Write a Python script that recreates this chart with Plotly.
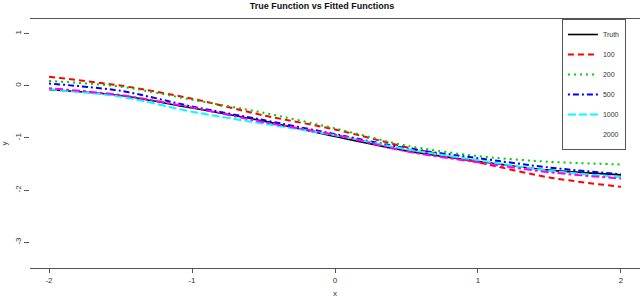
import plotly.graph_objects as go

x_vals = [-2, -1.5, -1, -0.5, 0, 0.5, 1, 1.5, 2]
truth = [-0.08, -0.19, -0.43, -0.68, -0.975, -1.25, -1.45, -1.62, -1.71]
fit_100 = [0.17, 0.00, -0.25, -0.57, -0.84, -1.18, -1.47, -1.76, -1.94]
fit_200 = [0.09, -0.02, -0.27, -0.52, -0.82, -1.15, -1.35, -1.46, -1.51]
fit_500 = [0.04, -0.10, -0.40, -0.66, -0.93, -1.20, -1.39, -1.57, -1.70]
fit_1000 = [-0.07, -0.21, -0.50, -0.73, -0.95, -1.22, -1.43, -1.63, -1.75]
fit_2000 = [-0.05, -0.18, -0.42, -0.70, -0.94, -1.26, -1.47, -1.66, -1.78]

x_ticks = [-2, -1, 0, 1, 2]
y_ticks = [1, 0, -1, -2, -3]

series = [
    ("Truth", truth, "#000000", "solid", 1.6),
    ("100", fit_100, "#FF0000", "6px,4px", 2),
    ("200", fit_200, "#00CD00", "2px,4px", 2),
    ("500", fit_500, "#0000FF", "2px,3px,6px,3px", 2),
    ("1000", fit_1000, "#00FFFF", "8px,3px", 2),
]

fig = go.Figure()
for name, ys, color, dash, w in series:
    fig.add_trace(go.Scatter(
        x=x_vals, y=ys, mode="lines", name=name, legendgroup=name,
        line=dict(color=color, dash=dash, width=w, shape="spline", smoothing=0.8),
    ))
fig.add_trace(go.Scatter(
    x=x_vals, y=fit_2000, mode="lines", name="2000", showlegend=False,
    line=dict(color="#FF00FF", dash="3px,3px,8px,3px", width=2, shape="spline", smoothing=0.8),
))
fig.add_trace(go.Scatter(
    x=[None], y=[None], mode="lines", name="2000", legendgroup="2000",
    line=dict(color="rgba(0,0,0,0)", width=2),
))

fig.update_layout(
    width=640, height=300,
    margin=dict(l=30, r=0, t=19, b=32, autoexpand=False),
    paper_bgcolor="white", plot_bgcolor="white",
    font=dict(family="Liberation Sans, Arial, sans-serif", size=8, color="#333"),
    title=dict(text="<b>True Function vs Fitted Functions</b>", x=0.503, xanchor="center",
               xref="container", yref="container", y=0.99, yanchor="top",
               font=dict(size=9, color="#111")),
    xaxis=dict(range=[-2.133, 2.133], tickvals=x_ticks, ticktext=[str(v) for v in x_ticks],
               showgrid=False, zeroline=False, showline=True, mirror=True, automargin=False,
               linecolor="#555", linewidth=1, ticks="outside", ticklen=4, tickcolor="#555",
               title=dict(text="x", font=dict(size=8), standoff=6), tickfont=dict(size=8)),
    yaxis=dict(range=[-3.494, 1.276], tickvals=y_ticks, ticktext=[str(v) for v in y_ticks],
               showgrid=False, zeroline=False, showline=False, automargin=False,
               ticks="outside", ticklen=5, tickcolor="#555", tickangle=-90,
               title=dict(text="y", font=dict(size=8)), tickfont=dict(size=8)),
    legend=dict(x=0.872, y=1.0, xanchor="left", yanchor="top",
                bordercolor="#555", borderwidth=1, bgcolor="white",
                font=dict(size=7, color="#333"), tracegroupgap=1),
    showlegend=True,
)

fig.write_html("out.html", config={"displayModeBar": False},
               post_script="document.body.style.margin='0px';")
